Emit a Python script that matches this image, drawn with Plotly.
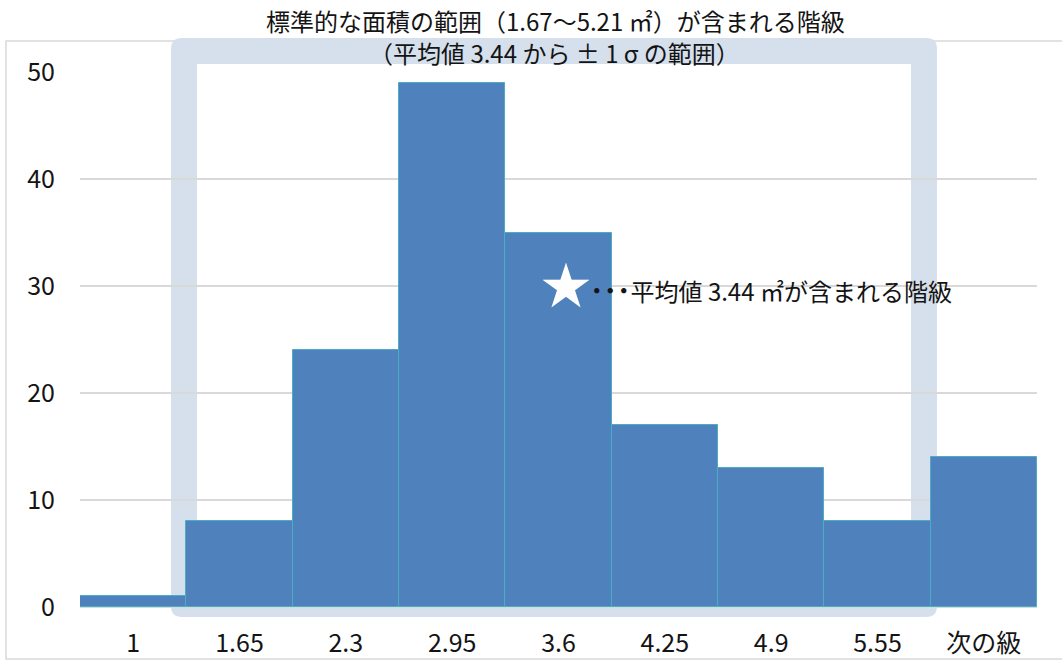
import plotly.graph_objects as go

# Histogram classes (lower bound of each class) and frequencies
classes = ["1", "1.65", "2.3", "2.95", "3.6", "4.25", "4.9", "5.55", "次の級"]
counts = [1, 8, 24, 49, 35, 17, 13, 8, 14]

title_line1 = "標準的な面積の範囲（1.67～5.21 ㎡）が含まれる階級"
title_line2 = "（平均値 3.44 から ± 1 σ の範囲）"
mean_label = "平均値 3.44 ㎡が含まれる階級"
mean_class = "3.6"
mean_marker_y = 30

W, H = 1062, 661
PL, PR, PT, PB = 80, 1037, 72, 607  # plot area in pixels

FONT = "Noto Sans CJK JP"
TEXT = "#141414"
FRAME = "#d5e0ec"


def px_x(px):
    return (px - PL) / (PR - PL)


def px_y(py):
    return (PB - py) / (PB - PT)


def rounded_rect(x0, y0, x1, y1, r):
    """Rounded rectangle path in paper coords from pixel corners."""
    a, b, c, d = px_x(x0), px_y(y0), px_x(x1), px_y(y1)
    rx, ry = r / (PR - PL), r / (PB - PT)
    return (f"M{a + rx},{b} L{c - rx},{b} Q{c},{b} {c},{b - ry} "
            f"L{c},{d + ry} Q{c},{d} {c - rx},{d} L{a + rx},{d} "
            f"Q{a},{d} {a},{d + ry} L{a},{b - ry} Q{a},{b} {a + rx},{b} Z")


def plain_rect(x0, y0, x1, y1):
    a, b, c, d = px_x(x0), px_y(y0), px_x(x1), px_y(y1)
    return f"M{a},{b} L{c},{b} L{c},{d} L{a},{d} Z"


fig = go.Figure(go.Bar(
    x=classes, y=counts,
    marker=dict(color="#4f81bd", line=dict(color="#4bacc6", width=1)),
    hoverinfo="x+y",
))

shapes = [
    # outer chart border
    dict(type="rect", xref="paper", yref="paper",
         x0=px_x(6), x1=px_x(1075), y0=px_y(659), y1=px_y(41),
         line=dict(color="#d9d9d9", width=1.5), layer="below"),
    # highlight frame around the ±1σ classes
    dict(type="path", xref="paper", yref="paper",
         path=rounded_rect(171, 38, 937, 617, 11) + " " + plain_rect(197, 64, 911, 591),
         fillcolor=FRAME, fillrule="evenodd", line=dict(width=0), layer="below"),
]

# category axes place annotations by index
mean_idx = classes.index(mean_class)

annotations = [
    dict(xref="paper", yref="paper", x=px_x(555), y=px_y(21), text=title_line1,
         showarrow=False, xanchor="center", yanchor="middle",
         font=dict(family=FONT, size=24, color=TEXT)),
    dict(xref="paper", yref="paper", x=px_x(554), y=px_y(52), text=title_line2,
         showarrow=False, xanchor="center", yanchor="middle",
         font=dict(family=FONT, size=24, color=TEXT)),
    dict(x=mean_idx, y=mean_marker_y, text="★", showarrow=False,
         xanchor="center", yanchor="middle", xshift=7, yshift=4,
         font=dict(family=FONT, size=50, color="white")),
    dict(xref="paper", x=px_x(588), y=mean_marker_y, yref="y",
         text="<b><span style='font-size:27px'>･･･</span></b>" + mean_label,
         showarrow=False, xanchor="left", yanchor="middle", yshift=-3,
         font=dict(family=FONT, size=24, color=TEXT)),
]

fig.update_layout(
    width=W, height=H,
    margin=dict(l=PL, r=W - PR, t=PT, b=H - PB),
    paper_bgcolor="white", plot_bgcolor="white",
    bargap=0, showlegend=False,
    font=dict(family=FONT, size=24, color=TEXT),
    shapes=shapes, annotations=annotations,
    xaxis=dict(type="category", showgrid=False, showline=False, ticks="",
               automargin=False, ticklabelstandoff=19, tickfont=dict(size=25)),
    yaxis=dict(range=[0, 50], dtick=10, showgrid=True, gridcolor="#d9d9d9",
               gridwidth=1.5, zeroline=True, zerolinecolor="#d9d9d9",
               showline=False, ticks="", automargin=False,
               ticklabelstandoff=24, tickfont=dict(size=25)),
)

fig.write_html("out.html")
